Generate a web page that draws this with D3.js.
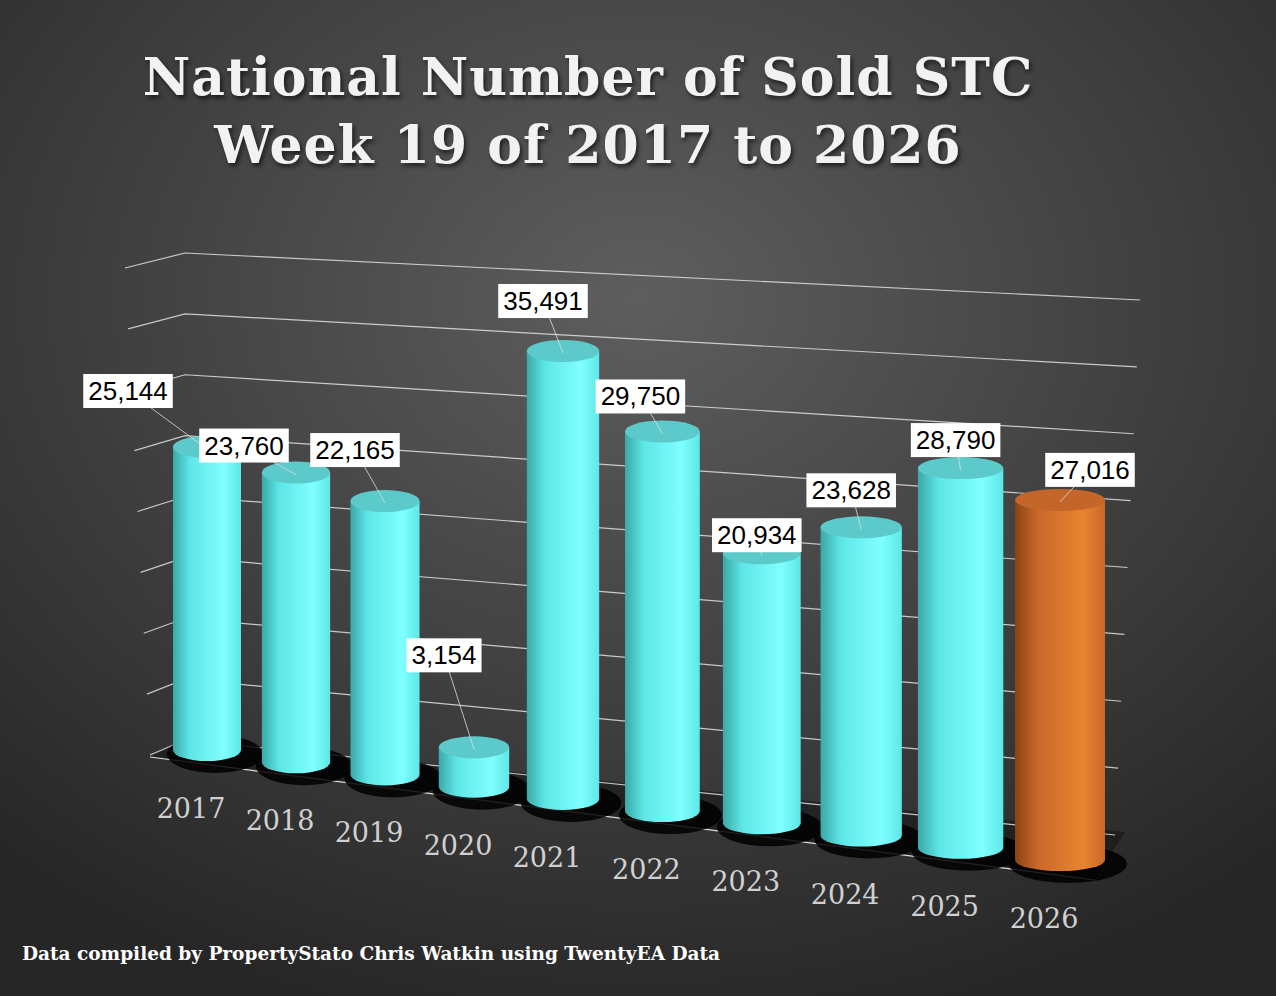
<!DOCTYPE html>
<html><head><meta charset="utf-8">
<script src="https://cdn.jsdelivr.net/npm/d3@7"></script>
<style>body{margin:0;background:#333}svg{display:block}</style>
</head><body>
<script>
const years = ["2017","2018","2019","2020","2021","2022","2023","2024","2025","2026"];
const values = [25144,23760,22165,3154,35491,29750,20934,23628,28790,27016];
const labels = ["25,144","23,760","22,165","3,154","35,491","29,750","20,934","23,628","28,790","27,016"];
const gridValues = [0,5000,10000,15000,20000,25000,30000,35000,40000];
const title = ["National Number of  Sold STC","Week 19 of 2017 to 2026"];
const footer = "Data compiled by PropertyStato Chris Watkin using TwentyEA Data";
// label offsets (layout)
const labDx = [-79,-52,-30,-30,-20,-22,-5,-10,-5,30];
const labDy = [-56,-27,-51,-92,-50,-35,-18,-37,-28,-30];

const W=1276,H=996;
const svg=d3.select("body").append("svg").attr("width",W).attr("height",H);
const defs=svg.append("defs");
const bg=defs.append("radialGradient").attr("id","bg").attr("cx","50%").attr("cy","30%").attr("r","75%");
bg.append("stop").attr("offset","0%").attr("stop-color","#5e5e5e");
bg.append("stop").attr("offset","100%").attr("stop-color","#262626");
svg.append("rect").attr("width",W).attr("height",H).attr("fill","url(#bg)");

function cylGrad(id,dark,mid,light){
  const g=defs.append("linearGradient").attr("id",id);
  [[0,dark],[0.25,mid],[0.75,light],[1,mid]].forEach(([o,c])=>g.append("stop").attr("offset",o).attr("stop-color",c));
}
cylGrad("cyan","#3aa8a8","#5ee6e6","#80ffff");
cylGrad("orange","#8a4313","#c9682a","#e8842f");

const idx=d3.scalePoint().domain(years).range([0,1]);
const cx=d3.scaleLinear().domain([0,4/9,1]).range([207,563,1060]);
const by=d3.scaleLinear().domain([0,1]).range([750,860]);
const kk=d3.scaleLinear().domain([0,1]).range([0.01205,0.01333]);
const bw=d3.scalePow().exponent(2).domain([0,1]).range([68,90]);

// grid
const yBackL=d3.scaleLinear().domain([0,40000]).range([740,253]);
const yBackR=d3.scaleLinear().domain([0,40000]).range([835,300]);
const xFrontL=d3.scaleLinear().domain([0,40000]).range([150,125]);
const xRight=d3.scaleLinear().domain([0,40000]).range([1115,1140]);
svg.append("polygon").attr("points",[[150,757],[185,740],[1125,832],[1095,880]].join(" "))
  .attr("fill","rgba(20,20,20,0.55)");
gridValues.forEach(v=>{
  const ly=yBackL(v)+15, bx=185, byy=yBackL(v);
  svg.append("polyline").attr("points",[[xFrontL(v),ly],[bx,byy],[xRight(v),yBackR(v)]].join(" "))
    .attr("fill","none").attr("stroke","#e0e0e0").attr("stroke-width",1.2).attr("opacity",0.85);
});
svg.append("line").attr("x1",150).attr("y1",757).attr("x2",1095).attr("y2",880).attr("stroke","#ddd").attr("stroke-width",1.2);

const g=svg.append("g");
years.forEach((y,i)=>{
  const tt=idx(y), x=cx(tt), b=by(tt), w=bw(tt), h=values[i]*kk(tt), top=b-h, ry=11;
  const isLast=i===years.length-1;
  g.append("ellipse").attr("cx",x+8).attr("cy",b+4).attr("rx",w/2+14).attr("ry",ry+8).attr("fill","#000").attr("opacity",0.85);
  g.append("path").attr("d",`M${x-w/2},${top} L${x-w/2},${b} A${w/2},${ry} 0 0 0 ${x+w/2},${b} L${x+w/2},${top} Z`)
    .attr("fill",isLast?"url(#orange)":"url(#cyan)");
  g.append("ellipse").attr("cx",x).attr("cy",top).attr("rx",w/2).attr("ry",ry)
    .attr("fill",isLast?"#c4652a":"#5ccaca");
  const lx=x+labDx[i], ly=top+labDy[i];
  g.append("line").attr("x1",x).attr("y1",top+2).attr("x2",lx).attr("y2",ly).attr("stroke","#ddd").attr("stroke-width",0.8);
  const tx=g.append("text").attr("x",lx).attr("y",ly+9).attr("text-anchor","middle")
    .attr("font-family","Liberation Sans, Arial").attr("font-size",26).attr("fill","#000").text(labels[i]);
  const bb=tx.node().getBBox();
  g.insert("rect","text:last-of-type").attr("x",bb.x-5).attr("y",bb.y-2).attr("width",bb.width+10).attr("height",bb.height+4).attr("fill","#fff");
  tx.raise();
  svg.append("text").attr("x",x-16).attr("y",b+68).attr("text-anchor","middle")
    .attr("font-family","DejaVu Serif").attr("font-size",27).attr("fill","#d0d0d0").text(y);
});

svg.selectAll(".title").data(title).enter().append("text")
  .attr("x",588).attr("y",(d,i)=>95+i*68).attr("text-anchor","middle")
  .attr("font-family","DejaVu Serif").attr("font-weight","bold").attr("font-size",52)
  .attr("fill","#f2f2f2").attr("letter-spacing",1).text(d=>d)
  .style("filter","drop-shadow(2px 3px 2px rgba(0,0,0,0.6))");
svg.append("text").attr("x",22).attr("y",960).attr("font-family","DejaVu Serif").attr("font-weight","bold")
  .attr("font-size",18.5).attr("fill","#fff").text(footer);
</script>
</body></html>
